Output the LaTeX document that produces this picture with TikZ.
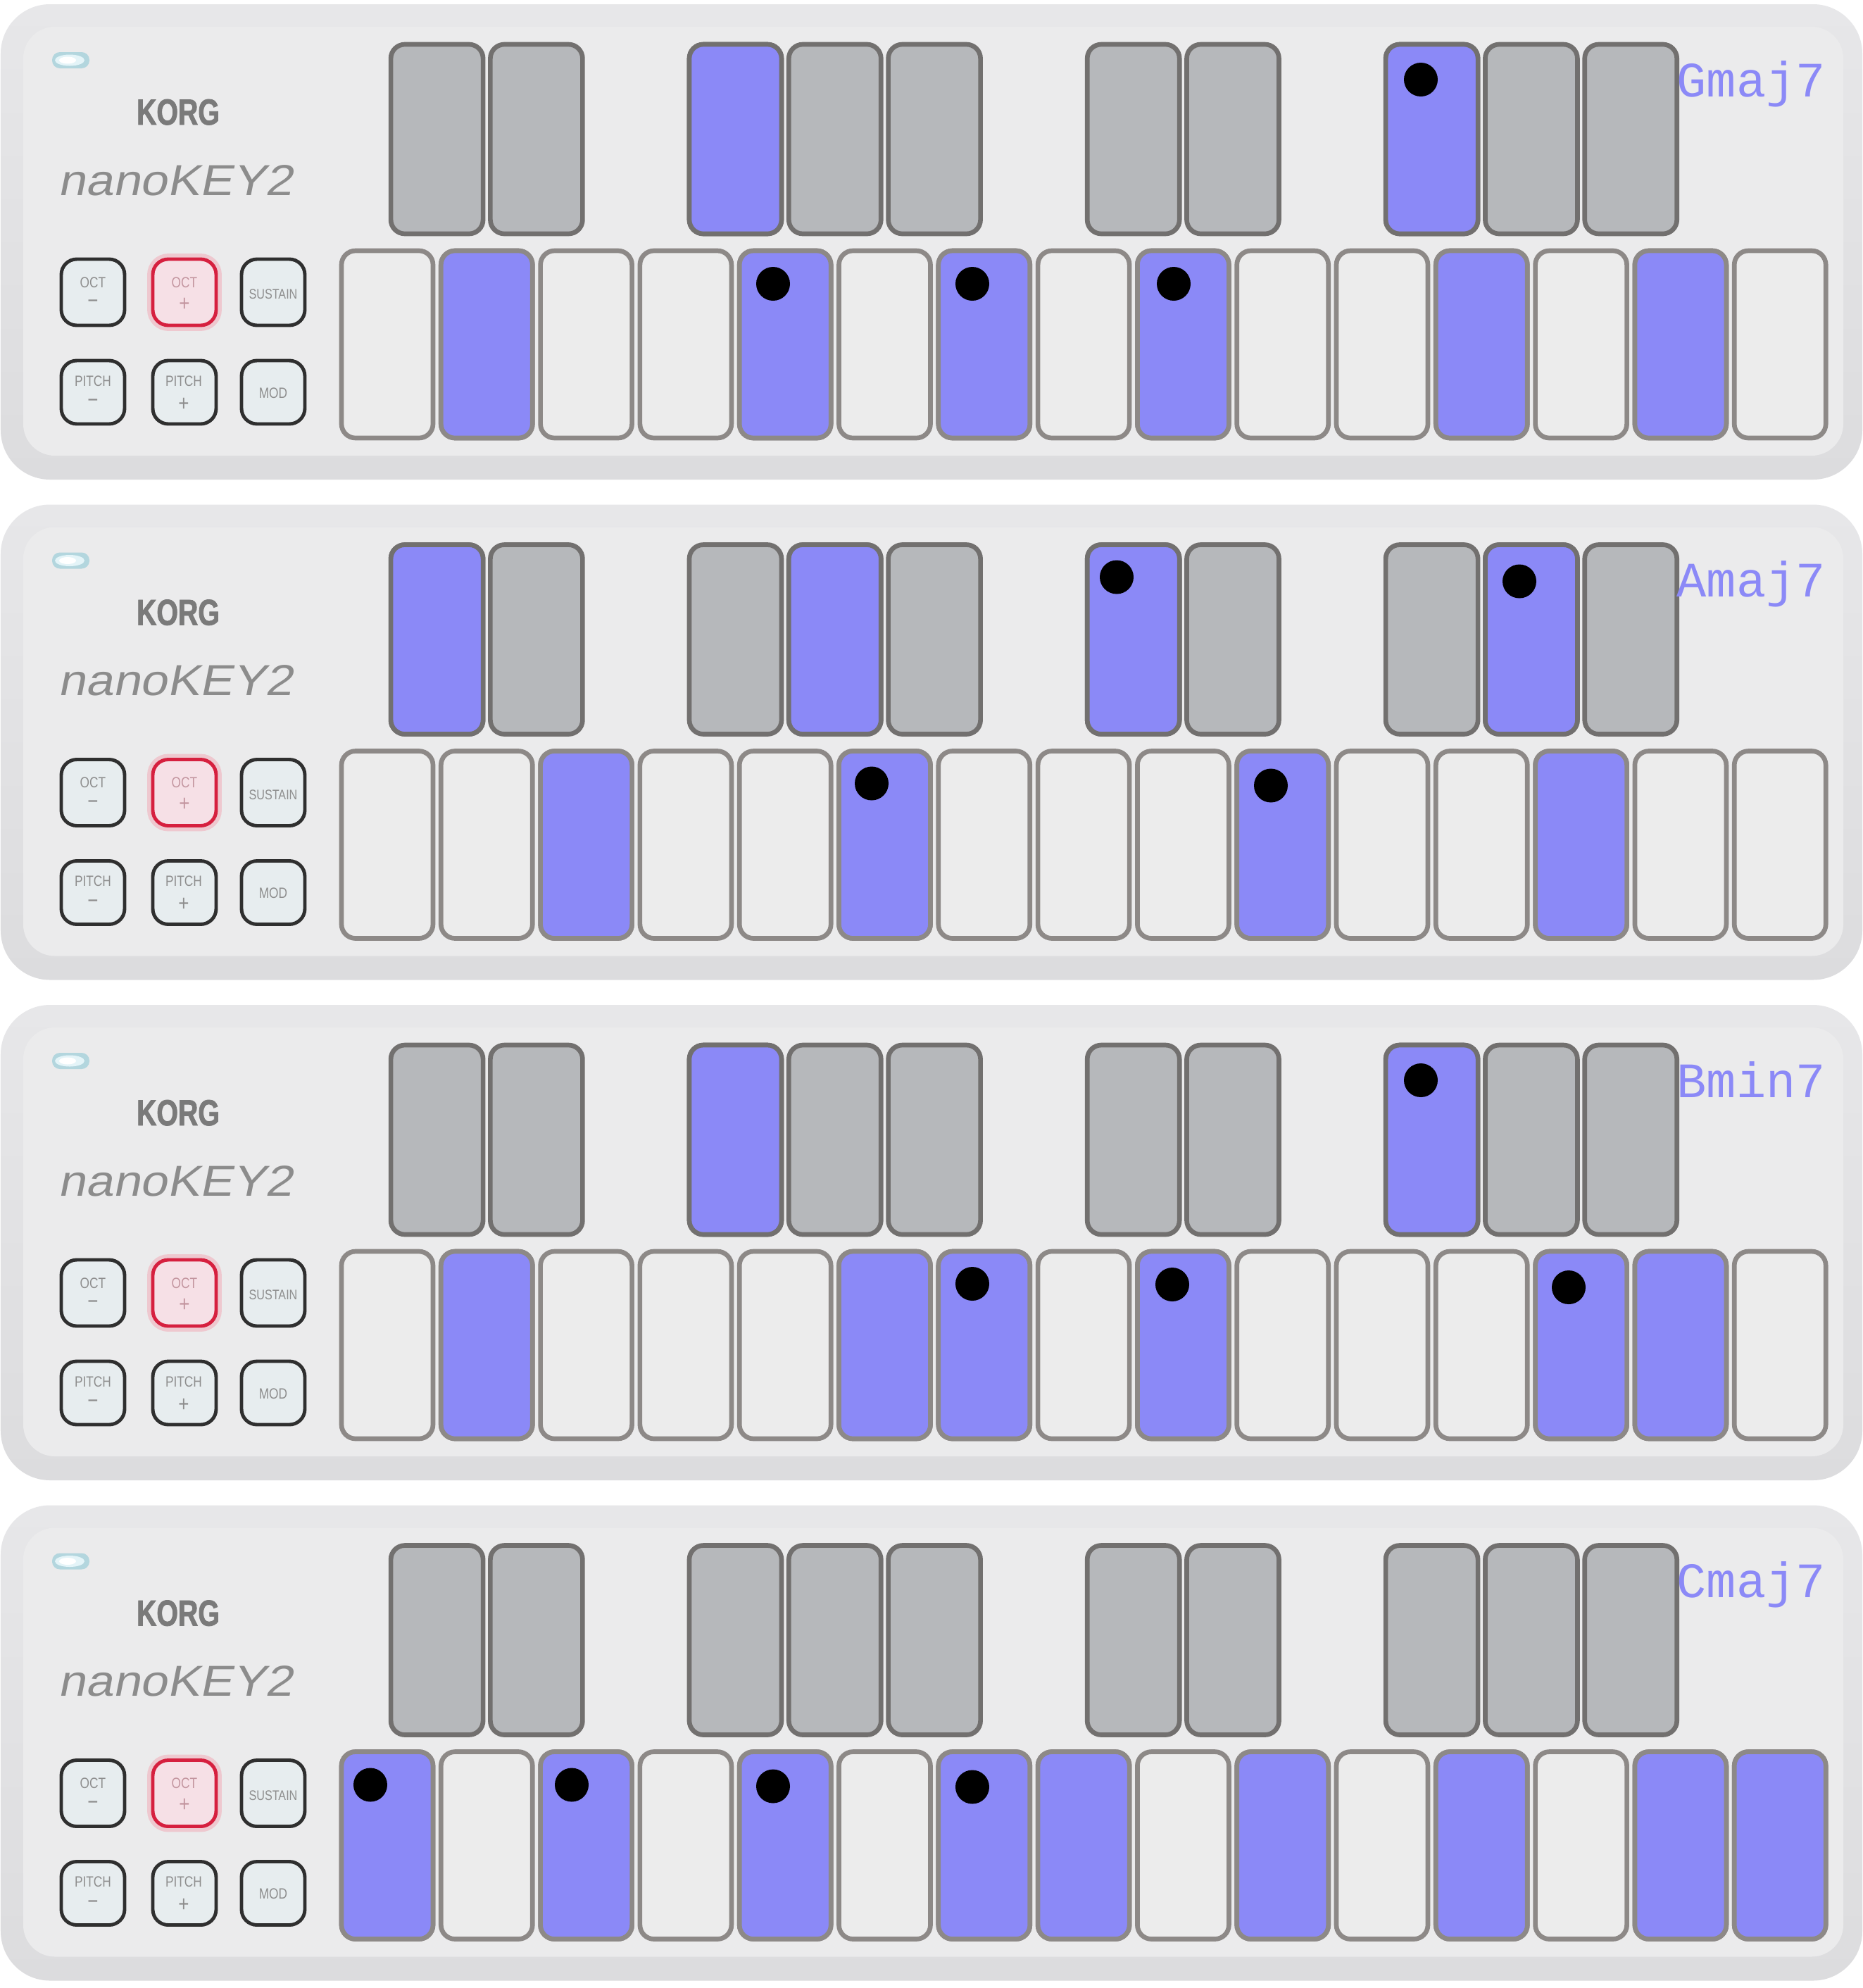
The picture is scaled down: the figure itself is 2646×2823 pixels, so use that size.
\documentclass[tikz,border=0pt]{standalone}
\usepackage{fontspec}
\setmainfont{Liberation Sans}
\newfontfamily\korgfont[FakeStretch=0.76,FakeBold=1.6]{Liberation Sans}
\newfontfamily\nanofont[FakeStretch=1.13,FakeSlant=0.2]{Liberation Sans}
\newfontfamily\btnfont[FakeStretch=0.82]{Liberation Sans}
\newfontfamily\chordfont{Liberation Mono}

\definecolor{bodytop}{HTML}{E7E7E9}
\definecolor{bodybot}{HTML}{DCDCDE}
\definecolor{bodyin}{HTML}{EBEBEC}
\definecolor{wkey}{HTML}{ECECEC}
\definecolor{wborder}{HTML}{8D8987}
\definecolor{bkey}{HTML}{B6B8BB}
\definecolor{bborder}{HTML}{72706F}
\definecolor{hl}{HTML}{8B89F7}
\definecolor{logo}{HTML}{7A7A7A}
\definecolor{nanocol}{HTML}{8C8C8C}
\definecolor{btnfill}{HTML}{E7EDEF}
\definecolor{btnline}{HTML}{2F2F2F}
\definecolor{octred}{HTML}{D6203F}
\definecolor{octfill}{HTML}{F6E0E6}
\definecolor{octtext}{HTML}{C3959F}
\definecolor{btntext}{HTML}{8E8E8E}
\definecolor{ledrim}{HTML}{B3D6DE}
\definecolor{ledcore}{HTML}{E4F4F8}

\tikzset{
  wkeybox/.style={draw=wborder, line width=1.9pt, fill=wkey, rounded corners=0.2cm},
  bkeybox/.style={draw=bborder, line width=1.9pt, fill=bkey, rounded corners=0.2cm},
  btn/.style={draw=btnline, line width=1.4pt, fill=btnfill, rounded corners=0.22cm},
  btnred/.style={draw=octred, line width=1.4pt, fill=octfill, rounded corners=0.22cm},
  octglow/.style={draw=octred!35, line width=4.5pt, rounded corners=0.22cm, opacity=0.6},
  btnlabel/.style={font=\btnfont\fontsize{6}{7}\selectfont, text=btntext, inner sep=0pt},
  btnsign/.style={font=\btnfont\fontsize{9}{9}\selectfont, text=btntext, inner sep=0pt},
  korg/.style={font=\korgfont\bfseries\fontsize{14.7}{15}\selectfont, text=logo, inner sep=0pt, anchor=base},
  nano/.style={font=\nanofont\fontsize{17.5}{18}\selectfont, text=nanocol, inner sep=0pt, anchor=base},
  chord/.style={font=\chordfont\fontsize{20}{20}\selectfont, text=hl, inner sep=0pt, anchor=base west},
}

\newcommand\basepanel[2]{%
\begin{scope}[shift={(0,{710.5*#1})}]
  \shade[top color=bodytop, bottom color=bodybot, rounded corners=0.7cm] (1,6) rectangle (2645,681);
  \fill[bodyin, rounded corners=0.45cm] (33,38) rectangle (2618,647);
  \fill[ledrim, rounded corners=0.11cm] (74,74) rectangle (127,97);
  \fill[ledcore] (99,85.5) ellipse [x radius=21, y radius=8];
  \fill[white] (96,85.5) ellipse [x radius=12, y radius=5];
  \node[korg] (korg#1) at (253,177) {KORG};
  \node[nano] (nano#1) at (249,277) {nanoKEY2};
  \draw[btn] (87,368) rectangle (177,462);
  \draw[octglow] (217,368) rectangle (307,462);
  \draw[btnred] (217,368) rectangle (307,462);
  \draw[btn] (343,368) rectangle (433,462);
  \draw[btn] (87,512) rectangle (177,602);
  \draw[btn] (217,512) rectangle (307,602);
  \draw[btn] (343,512) rectangle (433,602);
  \node[btnlabel] (octmt#1) at (132,401) {OCT};
  \node[btnsign] (octms#1) at (132,432) {−};
  \node[btnlabel, text=octtext] (octpt#1) at (262,401) {OCT};
  \node[btnsign, text=octtext] (octps#1) at (262,432) {+};
  \node[btnlabel, font=\btnfont\fontsize{5.6}{6}\selectfont] (sus#1) at (388,418) {SUSTAIN};
  \node[btnlabel] (pmt#1) at (132,541) {PITCH};
  \node[btnsign] (pms#1) at (132,573) {−};
  \node[btnlabel] (ppt#1) at (261,541) {PITCH};
  \node[btnsign] (pps#1) at (261,574) {+};
  \node[btnlabel] (mod#1) at (388,558) {MOD};
  \foreach \i in {1,2,4,5,6,8,9,11,12,13}
    \draw[bkeybox] ({479.3+141.3*\i-65.5},63) rectangle ++(131,269);
  \foreach \i in {0,...,14}
    \draw[wkeybox] ({485+141.3*\i},356) rectangle ++(130,266);
  \node[chord] (chord#1) at (2381,137) {#2};
\end{scope}}

\newcommand\hlw[1]{\draw[wkeybox, fill=hl] ({485+141.3*#1},356) rectangle ++(130,266);}
\newcommand\hlb[1]{\draw[bkeybox, fill=hl] ({479.3+141.3*#1-65.5},63) rectangle ++(131,269);}
\newcommand\notedot[2]{\fill[black] (#1,#2) circle [radius=24];}

\begin{document}
\begin{tikzpicture}[x=0.01cm, y=-0.01cm]
  \fill[white] (0,0) rectangle (2646,2823);
  \useasboundingbox (0,0) rectangle (2646,2823);

  % Gmaj7
  \basepanel{0}{Gmaj7}
  \begin{scope}[shift={(0,0)}]
    \hlw{1}\hlw{4}\hlw{6}\hlw{8}\hlw{11}\hlw{13}
    \hlb{4}\hlb{11}
    \notedot{1098}{403}\notedot{1381}{403}\notedot{1667}{403}\notedot{2018}{113}
  \end{scope}

  % Amaj7
  \basepanel{1}{Amaj7}
  \begin{scope}[shift={(0,710.5)}]
    \hlw{2}\hlw{5}\hlw{9}\hlw{12}
    \hlb{1}\hlb{5}\hlb{8}\hlb{12}
    \notedot{1238}{402}\notedot{1805}{405}\notedot{1586}{109}\notedot{2158}{115}
  \end{scope}

  % Bmin7
  \basepanel{2}{Bmin7}
  \begin{scope}[shift={(0,1421)}]
    \hlw{1}\hlw{5}\hlw{6}\hlw{8}\hlw{12}\hlw{13}
    \hlb{4}\hlb{11}
    \notedot{1381}{402}\notedot{1665}{403}\notedot{2228}{407}\notedot{2018}{113}
  \end{scope}

  % Cmaj7
  \basepanel{3}{Cmaj7}
  \begin{scope}[shift={(0,2131.5)}]
    \hlw{0}\hlw{2}\hlw{4}\hlw{6}\hlw{7}\hlw{9}\hlw{11}\hlw{13}\hlw{14}
    \notedot{526}{403}\notedot{812}{403}\notedot{1098}{405}\notedot{1381}{406}
  \end{scope}
\end{tikzpicture}
\end{document}
